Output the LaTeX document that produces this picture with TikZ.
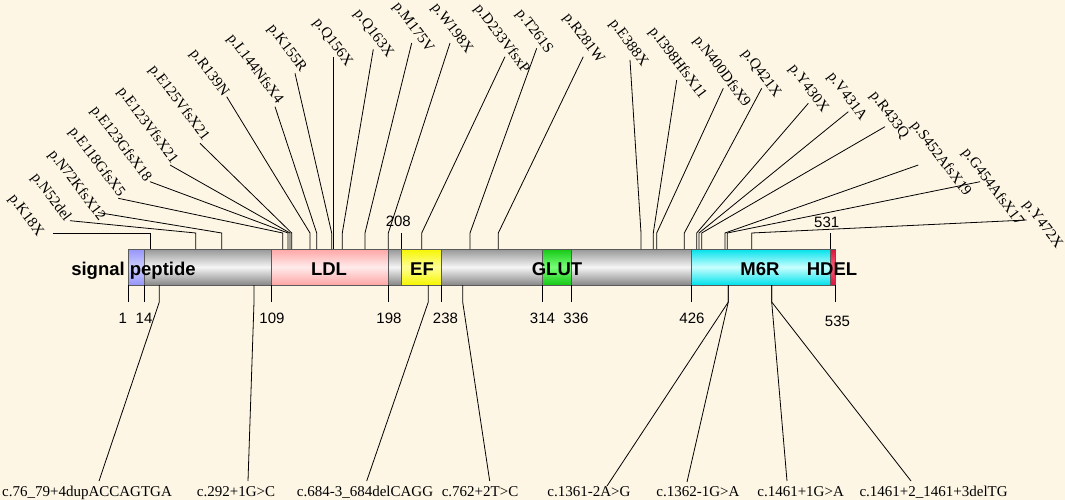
\documentclass[tikz,border=0pt]{standalone}
\usepackage{fontspec}
\setmainfont{Liberation Serif}
\newfontfamily\arialf{Liberation Sans}
\definecolor{bg}{RGB}{253,246,229}
\definecolor{bordr}{RGB}{90,90,90}
\definecolor{grT}{RGB}{150,150,150}
\definecolor{grM}{RGB}{245,245,245}
\definecolor{grB}{RGB}{135,135,135}
\definecolor{sigT}{RGB}{150,150,250}
\definecolor{sigM}{RGB}{205,205,255}
\definecolor{ldlT}{RGB}{255,165,165}
\definecolor{ldlM}{RGB}{255,235,235}
\definecolor{efT}{RGB}{245,245,0}
\definecolor{efM}{RGB}{255,255,150}
\definecolor{glT}{RGB}{20,200,20}
\definecolor{glM}{RGB}{120,255,120}
\definecolor{m6T}{RGB}{0,225,235}
\definecolor{m6M}{RGB}{200,255,255}
\definecolor{hdT}{RGB}{215,20,60}
\definecolor{hdM}{RGB}{255,90,120}
\begin{document}
\begin{tikzpicture}[x=1pt,y=-1pt,
  conn/.style={line width=0.8pt, black},
  mut/.style={font=\fontsize{15}{15}\selectfont, rotate=-53, inner sep=0pt},
  cdna/.style={font=\fontsize{15}{15}\selectfont, anchor=base, inner sep=0pt},
  num/.style={font=\arialf\fontsize{15}{15}\selectfont, anchor=base, inner sep=0pt},
  dom/.style={font=\arialf\bfseries\fontsize{18.5}{18.5}\selectfont, anchor=base, inner sep=0pt},
  seg/.style={draw=bordr, line width=0.6pt}
]
\fill[bg] (0,0) rectangle (1065,500);
\useasboundingbox (0,0) rectangle (1065,500);

% protein bar segments
\shade[seg, top color=sigT, bottom color=sigT, middle color=sigM] (128,249) rectangle (144.3,285);
\shade[seg, top color=grT, bottom color=grB, middle color=grM] (144.3,249) rectangle (271,285);
\shade[seg, top color=ldlT, bottom color=ldlT, middle color=ldlM] (271,249) rectangle (388.3,285);
\shade[seg, top color=grT, bottom color=grB, middle color=grM] (388.3,249) rectangle (401.7,285);
\shade[seg, top color=efT, bottom color=efT, middle color=efM] (401.7,249) rectangle (441.5,285);
\shade[seg, top color=grT, bottom color=grB, middle color=grM] (441.5,249) rectangle (542.7,285);
\shade[seg, top color=glT, bottom color=glT, middle color=glM] (542.7,249) rectangle (571.7,285);
\shade[seg, top color=grT, bottom color=grB, middle color=grM] (571.7,249) rectangle (691,285);
\shade[seg, top color=m6T, bottom color=m6T, middle color=m6M] (691,249) rectangle (830,285);
\shade[seg, top color=hdT, bottom color=hdT, middle color=hdM] (830,249) rectangle (835.7,285);

% domain labels
\node[dom] (dSig) at (133.5,275) {signal peptide};
\node[dom] (dLDL) at (329,275) {LDL};
\node[dom] (dEF) at (422,275) {EF};
\node[dom] (dGLUT) at (557,275) {GLUT};
\node[dom] (dM6R) at (760,275) {M6R};
\node[dom] (dHDEL) at (832,275) {HDEL};

% position ticks below
\foreach \n/\x/\lx/\ly in {1/128/122.7/323.7, 14/144.3/144/323.7, 109/271/272/323.7,
  198/388.3/389/323.7, 238/441.5/445.5/323.7, 314/542.7/542.5/323.7,
  336/571.7/576/323.7, 426/691/692/323.7, 535/835.7/837.5/326}{
  \coordinate (t\n) at (\x,285);
  \draw[conn, line width=0.7pt] (t\n) -- ++(0,17);
  \node[num] (n\n) at (\lx,\ly) {\n};
}
% position ticks above
\foreach \n/\x/\lx/\ly in {208/401.7/398.3/226.8, 531/830/826.7/227.4}{
  \coordinate (t\n) at (\x,249);
  \draw[conn, line width=0.7pt] (t\n) -- ++(0,-16);
  \node[num] (n\n) at (\lx,\ly) {\n};
}

% protein-level mutations (top)
\foreach \n/\bx/\ex/\ey/\cx/\cy/\t in {
  K18/150/53/233/25.8/215.8/p.K18X,
  N52/195.7/70/220.7/50.8/197.5/p.N52del,
  N72/221.7/98/212.5/76.7/185.8/p.N72KfsX12,
  E118/282.7/118.3/198.3/96.7/162.5/p.E118GfsX5,
  E123G/288/150/181.7/120.8/144.2/p.E123GfsX18,
  E123V/290/170/165/147.5/125.8/p.E123VfsX21,
  E125/291.7/200/143.3/179/103.3/p.E125VfsX21,
  R139/310/226.7/96.7/209/73.3/p.R139N,
  L144/316.7/275/106.7/255/69/p.L144NfsX4,
  K155/331.7/295/73.3/286.7/48.3/p.K155R,
  Q156/333.3/333.3/56.7/332.5/42.5/p.Q156X,
  Q163/342.3/373.3/49.3/373.3/34/p.Q163X,
  M175/365/411.7/43/413/28/p.M175V,
  W198/388.3/450/43/451.7/29/p.W198X,
  D233/421.7/505/56.7/501.7/39/p.D233VfsxP,
  T261/470/536.7/48.3/534/31.7/p.T261S,
  R281/498.3/583.3/56.7/583.3/39/p.R281W,
  E388/641/630/60/628.3/43.3/p.E388X,
  I398/653.3/676.7/80/677.5/63.3/p.I398HfsX11,
  N400/656.7/723.3/88.3/721.7/71.7/p.N400DfsX9,
  Q421/684.3/761.7/88.3/761/74/p.Q421X,
  Y430/696.7/808.3/103.3/808.3/89/p.Y430X,
  V431/699/848.3/111.7/846.7/96.7/p.V431A,
  R433/701.7/885/126.7/889/115/p.R433Q,
  S452/725/918.3/165/940.8/159/p.S452AfsX19,
  G454/727.3/980/181.7/992.5/187.5/p.G454AfsX17,
  Y472/751.7/1026.7/220/1042.5/225/p.Y472X}{
  \coordinate (b\n) at (\bx,249);
  \coordinate (e\n) at (\ex,\ey);
  \node[mut] (l\n) at (\cx,\cy) {\t};
  \draw[conn] (b\n) -- ++(0,-16) -- (e\n);
}

% cDNA-level mutations (bottom)
\foreach \n/\bx/\ex/\ey/\cx/\t in {
  c76/159.3/99/481/87/c.76\_79+4dupACCAGTGA,
  c292/254/248/481/236/c.292+1G>C,
  c684/428.3/366.7/481/365/c.684-3\_684delCAGG,
  c762/462.7/489.7/481/480/c.762+2T>C,
  c1361/728.3/607/486/589/c.1361-2A>G,
  c1362/728.3/687/482/698/c.1362-1G>A,
  c1461a/771.7/787/481/800.6/c.1461+1G>A,
  c1461b/771.7/911/481/933.6/c.1461+2\_1461+3delTG}{
  \coordinate (c\n) at (\bx,285);
  \coordinate (d\n) at (\ex,\ey);
  \node[cdna] (m\n) at (\cx,496) {\t};
  \draw[conn] (c\n) -- ++(0,17) -- (d\n);
}
\end{tikzpicture}
\end{document}
